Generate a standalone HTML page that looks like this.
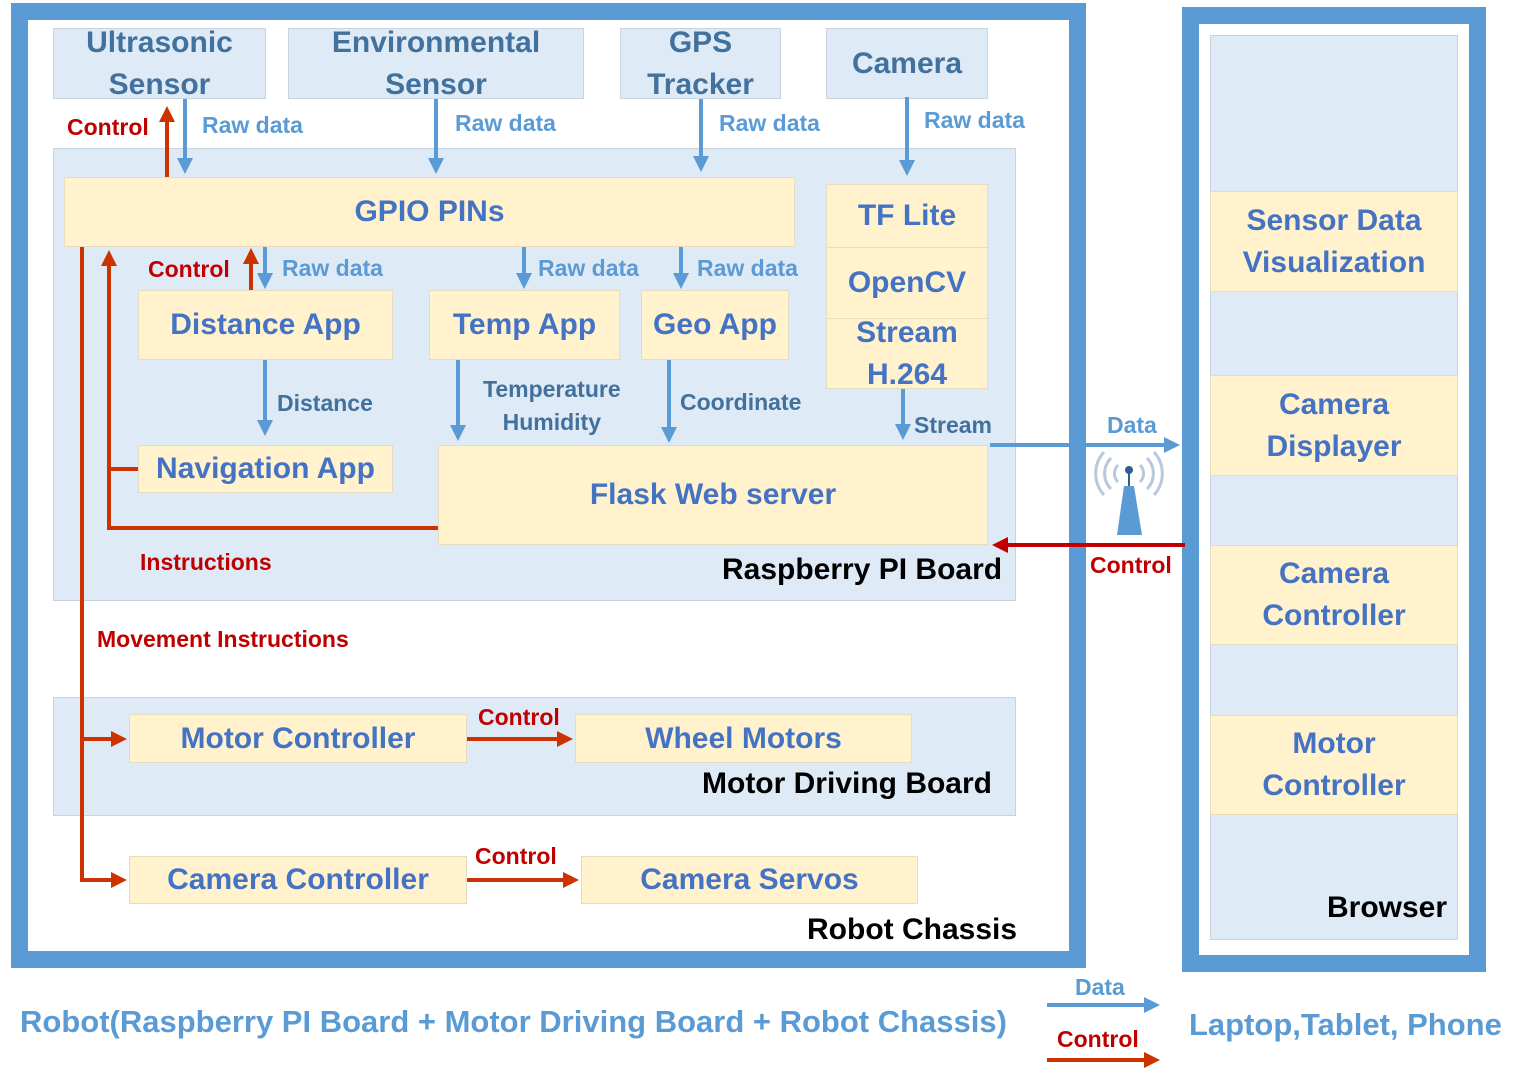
<!DOCTYPE html>
<html><head><meta charset="utf-8"><style>
body{margin:0;width:1527px;height:1072px;position:relative;background:#fff;overflow:hidden;font-family:"Liberation Sans",sans-serif;font-weight:bold}
.b{position:absolute;box-sizing:border-box;display:flex;align-items:center;justify-content:center;text-align:center;line-height:1.4}
.s{background:#deeaf6;border:1px solid #c9d3de;color:#41719c;font-size:30px;line-height:1.38}
.y{background:#fff2cc;border:1px solid #e6dcc0;color:#4472c4;font-size:30px}
.r{background:#deeaf6;border:1px solid #c9d3de}
.t{position:absolute;white-space:nowrap;font-size:23px}
.bl{color:#5b9bd5}.rd{color:#c00000}.dk{color:#41719c}.k{color:#000;font-size:30px}
</style></head><body>
<div style="position:absolute;left:11px;top:3px;width:1075px;height:965px;box-sizing:border-box;border:17px solid #5b9bd5"></div>
<div style="position:absolute;left:1182px;top:7px;width:304px;height:965px;box-sizing:border-box;border:17px solid #5b9bd5"></div>
<div class="b r" style="left:53px;top:148px;width:963px;height:453px"></div>
<div class="b r" style="left:53px;top:697px;width:963px;height:119px"></div>
<div class="b r" style="left:1210px;top:35px;width:248px;height:905px"></div>

<div class="b s" style="left:53px;top:28px;width:213px;height:71px">Ultrasonic<br>Sensor</div>
<div class="b s" style="left:288px;top:28px;width:296px;height:71px">Environmental<br>Sensor</div>
<div class="b s" style="left:620px;top:28px;width:161px;height:71px">GPS<br>Tracker</div>
<div class="b s" style="left:826px;top:28px;width:162px;height:71px">Camera</div>

<div class="b y" style="left:64px;top:177px;width:731px;height:70px">GPIO PINs</div>
<div class="b y" style="left:826px;top:184px;width:162px;height:64px">TF Lite</div>
<div class="b y" style="left:826px;top:247px;width:162px;height:72px">OpenCV</div>
<div class="b y" style="left:826px;top:318px;width:162px;height:71px">Stream<br>H.264</div>
<div class="b y" style="left:138px;top:290px;width:255px;height:70px">Distance App</div>
<div class="b y" style="left:429px;top:290px;width:191px;height:70px">Temp App</div>
<div class="b y" style="left:641px;top:290px;width:148px;height:70px">Geo App</div>
<div class="b y" style="left:138px;top:445px;width:255px;height:48px">Navigation App</div>
<div class="b y" style="left:438px;top:445px;width:550px;height:100px">Flask Web server</div>
<div class="b y" style="left:129px;top:714px;width:338px;height:49px">Motor Controller</div>
<div class="b y" style="left:575px;top:714px;width:337px;height:49px">Wheel Motors</div>
<div class="b y" style="left:129px;top:856px;width:338px;height:48px">Camera Controller</div>
<div class="b y" style="left:581px;top:856px;width:337px;height:48px">Camera Servos</div>

<div class="b y" style="left:1210px;top:191px;width:248px;height:101px">Sensor Data<br>Visualization</div>
<div class="b y" style="left:1210px;top:375px;width:248px;height:101px">Camera<br>Displayer</div>
<div class="b y" style="left:1210px;top:545px;width:248px;height:100px">Camera<br>Controller</div>
<div class="b y" style="left:1210px;top:715px;width:248px;height:100px">Motor<br>Controller</div>

<svg width="1527" height="1072" style="position:absolute;left:0;top:0">
<defs>
<marker id="ab" markerWidth="4" markerHeight="4" refX="3" refY="2" orient="auto"><path d="M0,0L4,2L0,4z" fill="#5b9bd5"/></marker>
<marker id="ar" markerWidth="4" markerHeight="4" refX="3" refY="2" orient="auto"><path d="M0,0L4,2L0,4z" fill="#cc3300"/></marker>
<marker id="ar2" markerWidth="4" markerHeight="4" refX="3" refY="2" orient="auto"><path d="M0,0L4,2L0,4z" fill="#c00000"/></marker>
</defs>
<g stroke="#5b9bd5" stroke-width="4" fill="none" marker-end="url(#ab)">
<line x1="185" y1="99" x2="185" y2="170"/>
<line x1="436" y1="99" x2="436" y2="170"/>
<line x1="701" y1="99" x2="701" y2="168"/>
<line x1="907" y1="97" x2="907" y2="172"/>
<line x1="265" y1="247" x2="265" y2="285"/>
<line x1="524" y1="247" x2="524" y2="285"/>
<line x1="681" y1="247" x2="681" y2="285"/>
<line x1="265" y1="360" x2="265" y2="432"/>
<line x1="458" y1="360" x2="458" y2="437"/>
<line x1="669" y1="360" x2="669" y2="439"/>
<line x1="903" y1="389" x2="903" y2="436"/>
<line x1="990" y1="445" x2="1176" y2="445"/>
<line x1="1047" y1="1005" x2="1156" y2="1005"/>
</g>
<g stroke="#cc3300" stroke-width="4" fill="none">
<line x1="167" y1="177" x2="167" y2="110" marker-end="url(#ar)"/>
<line x1="251" y1="290" x2="251" y2="252" marker-end="url(#ar)"/>
<polyline points="438,528 109,528 109,254" marker-end="url(#ar)"/>
<line x1="109" y1="469" x2="138" y2="469"/>
<line x1="82" y1="247" x2="82" y2="882"/>
<line x1="82" y1="739" x2="123" y2="739" marker-end="url(#ar)"/>
<line x1="82" y1="880" x2="123" y2="880" marker-end="url(#ar)"/>
<line x1="467" y1="739" x2="569" y2="739" marker-end="url(#ar)"/>
<line x1="467" y1="880" x2="575" y2="880" marker-end="url(#ar)"/>
<line x1="1047" y1="1060" x2="1156" y2="1060" marker-end="url(#ar)"/>
</g>
<line x1="1185" y1="545" x2="996" y2="545" stroke="#c00000" stroke-width="4" marker-end="url(#ar2)"/>
<g fill="none" stroke="#b7c9db" stroke-width="3">
<path d="M1118,465a12,12 0 0 0 0,17M1140,465a12,12 0 0 1 0,17"/>
<path d="M1111,458a22,22 0 0 0 0,31M1147,458a22,22 0 0 1 0,31"/>
<path d="M1104,452a32,32 0 0 0 0,43M1154,452a32,32 0 0 1 0,43"/>
</g>
<line x1="1129" y1="470" x2="1129" y2="488" stroke="#2e5f8f" stroke-width="2"/>
<circle cx="1129" cy="470" r="4" fill="#2e5f8f"/>
<path d="M1124,486L1134,486L1142,535L1117,535z" fill="#5b9bd5"/>
</svg>

<div class="t rd" style="left:67px;top:114px">Control</div>
<div class="t bl" style="left:202px;top:112px">Raw data</div>
<div class="t bl" style="left:455px;top:110px">Raw data</div>
<div class="t bl" style="left:719px;top:110px">Raw data</div>
<div class="t bl" style="left:924px;top:107px">Raw data</div>
<div class="t rd" style="left:148px;top:256px">Control</div>
<div class="t bl" style="left:282px;top:255px">Raw data</div>
<div class="t bl" style="left:538px;top:255px">Raw data</div>
<div class="t bl" style="left:697px;top:255px">Raw data</div>
<div class="t dk" style="left:277px;top:390px">Distance</div>
<div class="t dk" style="left:483px;top:373px;text-align:center;line-height:33px">Temperature<br>Humidity</div>
<div class="t dk" style="left:680px;top:389px">Coordinate</div>
<div class="t dk" style="left:914px;top:412px">Stream</div>
<div class="t bl" style="left:1107px;top:412px">Data</div>
<div class="t rd" style="left:1090px;top:552px">Control</div>
<div class="t rd" style="left:140px;top:549px">Instructions</div>
<div class="t rd" style="left:97px;top:626px">Movement Instructions</div>
<div class="t k" style="left:722px;top:553px">Raspberry PI Board</div>
<div class="t rd" style="left:478px;top:704px">Control</div>
<div class="t rd" style="left:475px;top:843px">Control</div>
<div class="t k" style="left:702px;top:767px">Motor Driving Board</div>
<div class="t k" style="left:807px;top:913px">Robot Chassis</div>
<div class="t k" style="left:1327px;top:891px">Browser</div>
<div class="t bl" style="left:20px;top:1004px;font-size:31px">Robot(Raspberry PI Board + Motor Driving Board + Robot Chassis)</div>
<div class="t bl" style="left:1075px;top:974px">Data</div>
<div class="t rd" style="left:1057px;top:1026px">Control</div>
<div class="t bl" style="left:1189px;top:1007px;font-size:31px">Laptop,Tablet, Phone</div>
</body></html>
